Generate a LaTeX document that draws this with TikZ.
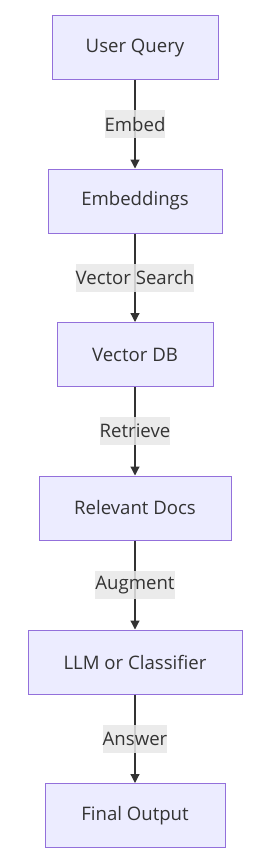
\documentclass[tikz,border=0pt]{standalone}
\usepackage{fontspec}
\setmainfont{Open Sans}
\usepackage{tikz}
\usetikzlibrary{arrows.meta,positioning}
\definecolor{boxfill}{HTML}{ECECFF}
\definecolor{boxline}{HTML}{9370DB}
\definecolor{inkgray}{HTML}{333333}
\definecolor{tagfill}{HTML}{E8E8E8}
\tikzset{
  flowbox/.style={draw=boxline, fill=boxfill, line width=1pt, text=inkgray,
    minimum height=64pt, inner sep=0pt, font=\fontsize{18.6}{22}\selectfont},
  flowedge/.style={draw=inkgray, line width=1.2pt,
    -{Triangle[length=9pt,width=9pt]}},
  edgetag/.style={fill=tagfill, fill opacity=0.85, text opacity=1, text=inkgray,
    inner xsep=0pt, minimum height=28pt, font=\fontsize{18.6}{22}\selectfont}
}
\begin{document}
\begin{tikzpicture}[x=1pt, y=-1pt]
    \useasboundingbox (0,0) rectangle (274,864);
    % boxes
    \node[flowbox, minimum width=166pt] (query) at (135,47.5) {User Query};
    \node[flowbox, minimum width=174pt] (embed) at (135,201) {Embeddings};
    \node[flowbox, minimum width=156pt] (vdb) at (135,354.5) {Vector DB};
    \node[flowbox, minimum width=192pt] (docs) at (135,508) {Relevant Docs};
    \node[flowbox, minimum width=214pt] (llm) at (135,662) {LLM or Classifier};
    \node[flowbox, minimum width=180pt] (output) at (135,815.5) {Final Output};
    % connectors
    \draw[flowedge] (query) -- node[edgetag] {Embed} (embed);
    \draw[flowedge] (embed) -- node[edgetag] {Vector Search} (vdb);
    \draw[flowedge] (vdb) -- node[edgetag] {Retrieve} (docs);
    \draw[flowedge] (docs) -- node[edgetag] {Augment} (llm);
    \draw[flowedge] (llm) -- node[edgetag] {Answer} (output);
\end{tikzpicture}
\end{document}
